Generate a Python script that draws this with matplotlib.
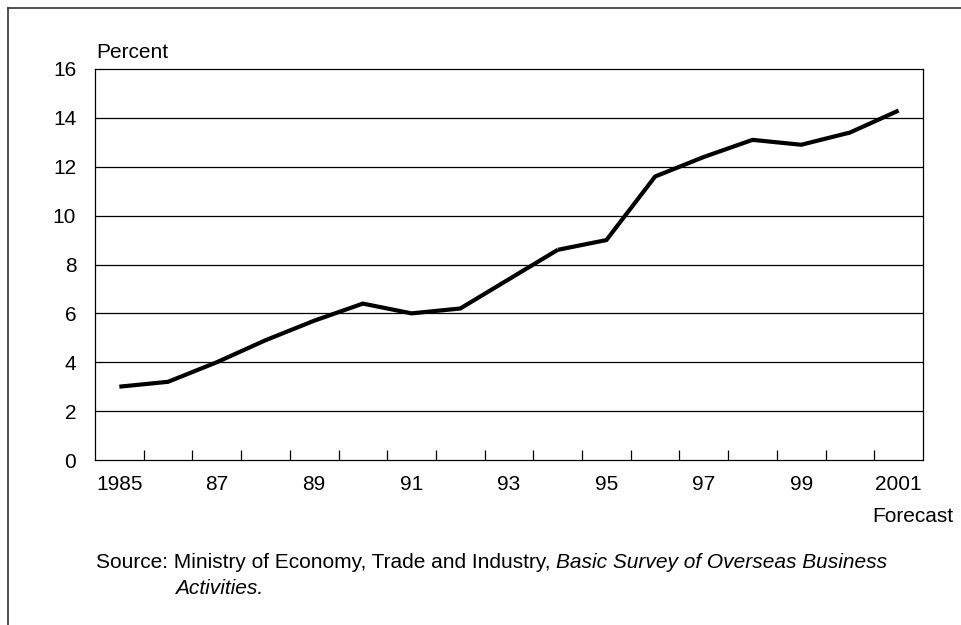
import matplotlib
matplotlib.use("Agg")
import matplotlib.pyplot as plt
from matplotlib.lines import Line2D
import numpy as np

plt.rcParams['font.family'] = ['Liberation Sans', 'DejaVu Sans']

years = list(range(1985, 2002))
values = [3.0, 3.2, 4.0, 4.9, 5.7, 6.4, 6.0, 6.2, 7.4, 8.6,
          9.0, 11.6, 12.4, 13.1, 12.9, 13.4, 14.3]
tick_labels = ['1985', '87', '89', '91', '93', '95', '97', '99', '2001']
yticks = [0, 2, 4, 6, 8, 10, 12, 14, 16]
break_year = 1994  # small gap in the original line

fs = 15

fig = plt.figure(figsize=(9.62, 6.25), dpi=100)
ax = fig.add_axes([95 / 962, 1 - 460 / 625, 828 / 962, 391 / 625])

x = np.array(years)
v = np.array(values)
k = years.index(break_year)
ax.plot(x[:k + 1], v[:k + 1], color='black', lw=3, solid_capstyle='butt',
        solid_joinstyle='miter', zorder=3)
ax.plot(x[k:], v[k:], color='black', lw=3, solid_capstyle='butt',
        solid_joinstyle='miter', zorder=3)

ax.set_xlim(years[0] - 0.5, years[-1] + 0.5)
ax.set_ylim(0, 16)

for y in yticks[1:-1]:
    ax.axhline(y, color='black', lw=0.9, zorder=1)

ax.set_yticks(yticks)
ax.tick_params(axis='y', length=0, pad=13.5, labelsize=fs)

# labels at odd years, tick marks at boundaries between years
ax.set_xticks(years[::2])
ax.set_xticklabels(tick_labels)
ax.tick_params(axis='x', length=0, pad=11, labelsize=fs)
ax.set_xticks(np.arange(years[0] + 0.5, years[-1]), minor=True)
ax.tick_params(axis='x', which='minor', direction='in', length=7, width=0.9)

for s in ax.spines.values():
    s.set_linewidth(0.9)

fig.text(96 / 962, 1 - 52 / 625, 'Percent', fontsize=fs, va='center', ha='left')
fig.text(953 / 962, 1 - 516 / 625, 'Forecast', fontsize=fs, va='center', ha='right')
fig.text(96 / 962, 1 - 562 / 625, 'Source: Ministry of Economy, Trade and Industry, ',
         fontsize=fs, va='center', ha='left')
src = fig.text(0, 0, 'Source: Ministry of Economy, Trade and Industry, ', fontsize=fs)
fig.canvas.draw()
w = src.get_window_extent().width
src.remove()
fig.text((96 + w) / 962, 1 - 562 / 625, 'Basic Survey of Overseas Business',
         fontsize=fs, style='italic', va='center', ha='left')
fig.text(175 / 962, 1 - 588 / 625, 'Activities.', fontsize=fs,
         style='italic', va='center', ha='left')

# outer frame (top and left only)
fig.add_artist(Line2D([8 / 962, 1], [1 - 8 / 625, 1 - 8 / 625], color='#333333', lw=1.2,
                      transform=fig.transFigure))
fig.add_artist(Line2D([8 / 962, 8 / 962], [0, 1 - 8 / 625], color='#333333', lw=1.2,
                      transform=fig.transFigure))

fig.savefig('out.png', dpi=100)
